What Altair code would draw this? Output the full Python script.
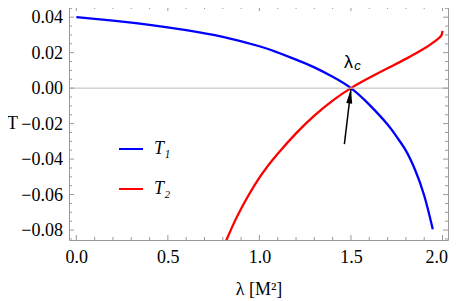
import altair as alt
import pandas as pd

# ---- data ----
lam_T1 = [0.0, 0.2, 0.4, 0.6, 0.8, 1.0, 1.1, 1.2, 1.3, 1.4, 1.5, 1.6, 1.7, 1.75, 1.8, 1.85, 1.9, 1.947]
T1 = [0.0400, 0.0381, 0.0357, 0.0327, 0.0289, 0.0236, 0.0201, 0.0161, 0.0117, 0.0064, 0.0,
      -0.0093, -0.0205, -0.0275, -0.0352, -0.0460, -0.0605, -0.0795]

lam_T2 = [0.818, 0.85, 0.9, 1.0, 1.1, 1.2, 1.3, 1.4, 1.5, 1.6, 1.7, 1.8, 1.9, 1.95, 1.98, 1.995, 2.0]
T2 = [-0.0860, -0.0785, -0.0680, -0.0505, -0.0370, -0.0255, -0.0155, -0.0070, 0.0, 0.0058,
      0.0112, 0.0165, 0.0223, 0.0258, 0.0282, 0.0300, 0.0323]

series_names = ["T₁", "T₂"]
series_colors = ["#0000ff", "#ff0000"]

y_major = [-0.08, -0.06, -0.04, -0.02, 0.0, 0.02, 0.04]
y_labels = ["\u22120.08", "\u22120.06", "\u22120.04", "\u22120.02", "0.00", "0.02", "0.04"]
y_minor = [-0.085, -0.075, -0.07, -0.065, -0.055, -0.05, -0.045, -0.035, -0.03, -0.025,
           -0.015, -0.01, -0.005, 0.005, 0.01, 0.015, 0.025, 0.03, 0.035, 0.045]
x_major = [0.0, 0.5, 1.0, 1.5, 2.0]
x_minor = [0.1, 0.2, 0.3, 0.4, 0.6, 0.7, 0.8, 0.9, 1.1, 1.2, 1.3, 1.4, 1.6, 1.7, 1.8, 1.9]

zero_line = [0.0]
arrow_tail = [1.464, -0.0316]
arrow_tip = [1.5, -0.0005]
lambda_c_pos = [1.486, 0.0114]

# ---- layout / style ----
W, H = 379, 234
FRAME = "#999999"
SERIF = "Liberation Serif"

xs = alt.Scale(domain=[-0.04, 2.03], nice=False, zero=False)
ys = alt.Scale(domain=[-0.0856, 0.0463], nice=False, zero=False)

curves = pd.concat([
    pd.DataFrame({"lam": lam_T1, "T": T1, "series": series_names[0]}),
    pd.DataFrame({"lam": lam_T2, "T": T2, "series": series_names[1]}),
])

lines = alt.Chart(curves).mark_line(strokeWidth=2.3, interpolate="natural", clip=True).encode(
    x=alt.X("lam:Q", scale=xs, title="λ [M²]", axis=alt.Axis(
        values=x_major, format=".1f", ticks=False, domain=False, grid=False,
        labelFont=SERIF, labelFontSize=18, labelColor="black", labelPadding=8,
        labelFlush=6, labelFlushOffset=5, labelOverlap=False,
        titleFont=SERIF, titleFontSize=18, titleFontWeight="normal", titleColor="black",
        titlePadding=14)),
    y=alt.Y("T:Q", scale=ys, title="T", axis=alt.Axis(
        values=y_major, labels=False, ticks=False, domain=False, grid=False,
        titleFont=SERIF, titleFontSize=18, titleFontWeight="normal", titleColor="black",
        titleAngle=0, titleX=-57, titleY=H / 2, titleAlign="center", titleBaseline="middle")),
    color=alt.Color("series:N", scale=alt.Scale(domain=series_names, range=series_colors),
                    legend=alt.Legend(orient="none", legendX=49, legendY=130, title=None,
                                      symbolType="stroke", symbolSize=576, symbolStrokeWidth=2,
                                      labelFont=SERIF, labelFontSize=18, labelFontStyle="italic",
                                      labelColor="black", labelOffset=10, rowPadding=18, padding=0)),
)

ylab = alt.Chart(pd.DataFrame({"v": y_major, "label": y_labels})).mark_text(
    font=SERIF, fontSize=18, align="right", baseline="middle", color="black", dx=-6, dy=1).encode(
    y=alt.Y("v:Q", scale=ys), x=alt.value(0), text="label:N")

zero = alt.Chart(pd.DataFrame({"v": zero_line})).mark_rule(color="#bbbbbb", strokeWidth=1).encode(
    y=alt.Y("v:Q", scale=ys))


def ticks(vals, channel, length, side):
    df = pd.DataFrame({"v": vals})
    ch = alt.Chart(df).mark_rule(color=FRAME, strokeWidth=1)
    if channel == "y":
        pos = alt.Y("v:Q", scale=ys)
        if side == "a":
            return ch.encode(y=pos, x=alt.value(0), x2=alt.value(length))
        return ch.encode(y=pos, x=alt.value(W), x2=alt.value(W - length))
    pos = alt.X("v:Q", scale=xs)
    if side == "a":
        return ch.encode(x=pos, y=alt.value(H), y2=alt.value(H - length))
    return ch.encode(x=pos, y=alt.value(0), y2=alt.value(length))


tick_layers = []
for side in ["a", "b"]:
    tick_layers.append(ticks(y_major, "y", 5, side))
    tick_layers.append(ticks(y_minor, "y", 3, side))
    tick_layers.append(ticks(x_major, "x", 5, side))
    tick_layers.append(ticks(x_minor, "x", 3, side))

arrow_df = pd.DataFrame({"x": [arrow_tail[0]], "y": [arrow_tail[1]],
                         "x2": [arrow_tip[0]], "y2": [arrow_tip[1]]})
arrow_line = alt.Chart(arrow_df).mark_rule(color="black", strokeWidth=1.5).encode(
    x=alt.X("x:Q", scale=xs), y=alt.Y("y:Q", scale=ys), x2="x2:Q", y2="y2:Q")
arrow_head = alt.Chart(pd.DataFrame({"x": [arrow_tip[0]], "y": [arrow_tip[1]]})).mark_point(
    shape="M0,0L0.5,2.4L-0.5,2.4Z", filled=True, size=144, angle=7, color="black",
    opacity=1, strokeWidth=0).encode(
    x=alt.X("x:Q", scale=xs), y=alt.Y("y:Q", scale=ys))

lab_df = pd.DataFrame({"x": [lambda_c_pos[0]], "y": [lambda_c_pos[1]]})
lab_l = alt.Chart(lab_df).mark_text(text="λ", font="Liberation Sans", fontSize=18,
                                    align="center", baseline="alphabetic", color="black").encode(
    x=alt.X("x:Q", scale=xs), y=alt.Y("y:Q", scale=ys))
lab_c = alt.Chart(lab_df).mark_text(text="c", font="Liberation Sans", fontSize=13, fontStyle="italic",
                                    align="center", baseline="alphabetic", color="black",
                                    dx=9, dy=2).encode(
    x=alt.X("x:Q", scale=xs), y=alt.Y("y:Q", scale=ys))

chart = alt.layer(lines, ylab, zero, *tick_layers, arrow_line, arrow_head, lab_l, lab_c).properties(
    width=W, height=H,
    autosize=alt.AutoSizeParams(type="none"),
    padding={"left": 61, "top": -2, "right": 1, "bottom": 61},
    background="white",
).configure_view(stroke=FRAME, strokeWidth=1)

chart.save("out.html", embed_options={"renderer": "svg", "actions": False})
